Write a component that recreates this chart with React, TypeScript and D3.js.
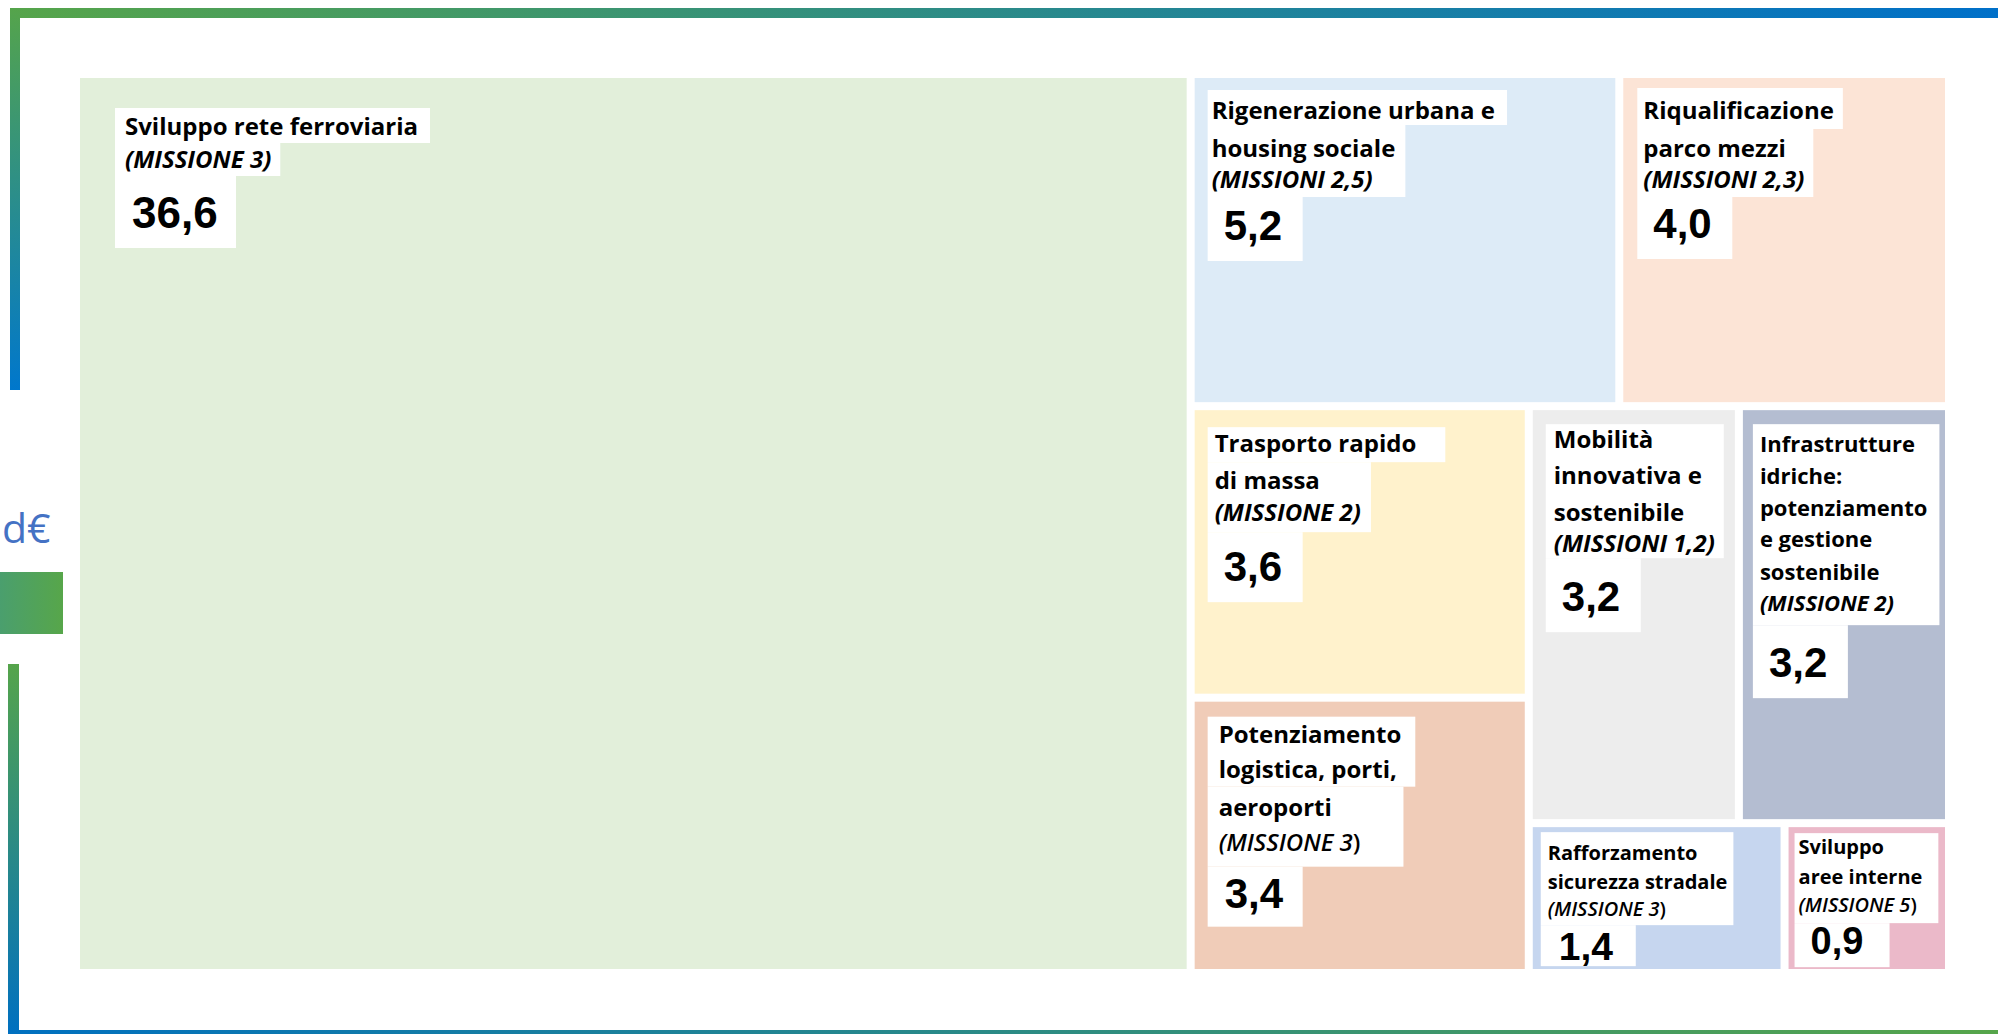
import React, { useEffect, useRef } from 'react';
import * as d3 from 'd3';

const W = 1998;
const H = 1034;

// ---- data (billions of euro) ----
const categories = [
  'Sviluppo rete ferroviaria',
  'Rigenerazione urbana e housing sociale',
  'Riqualificazione parco mezzi',
  'Trasporto rapido di massa',
  'Mobilità innovativa e sostenibile',
  'Infrastrutture idriche: potenziamento e gestione sostenibile',
  'Potenziamento logistica, porti, aeroporti',
  'Rafforzamento sicurezza stradale',
  'Sviluppo aree interne',
];

const titleLines = [
  ['Sviluppo rete ferroviaria'],
  ['Rigenerazione urbana e', 'housing sociale'],
  ['Riqualificazione', 'parco mezzi'],
  ['Trasporto rapido', 'di massa'],
  ['Mobilità', 'innovativa e', 'sostenibile'],
  ['Infrastrutture', 'idriche:', 'potenziamento', 'e gestione', 'sostenibile'],
  ['Potenziamento', 'logistica, porti,', 'aeroporti'],
  ['Rafforzamento', 'sicurezza stradale'],
  ['Sviluppo', 'aree interne'],
];

const missions = [
  'MISSIONE 3',
  'MISSIONI 2,5',
  'MISSIONI 2,3',
  'MISSIONE 2',
  'MISSIONI 1,2',
  'MISSIONE 2',
  'MISSIONE 3',
  'MISSIONE 3',
  'MISSIONE 5',
];

const values = [36.6, 5.2, 4.0, 3.6, 3.2, 3.2, 3.4, 1.4, 0.9];

const fills = [
  '#E2EFDA',
  '#DDEBF7',
  '#FCE4D6',
  '#FFF2CC',
  '#EDEDED',
  '#B4BDD1',
  '#F0CCB8',
  '#C6D6EF',
  '#EBB9C9',
];

// label placement inside each tile (offsets from the tile's top-left corner)
// edges: top/bottom of the white highlight rows, groups: which text lines share a row
const labelLayout = [
  { fs: 24, tx: 45, bx: 35, base: [57, 90], groups: [[0], [1]], pads: [12, 9], edges: [30, 65, 98], vx: 52, vy: 150, vfs: 44, vBottom: 170, vw: 121, upright: false },
  { fs: 24, tx: 17, bx: 13, base: [41, 79, 110], groups: [[0], [1, 2]], pads: [12, 10], edges: [12, 47, 119], vx: 29, vy: 162, vfs: 42, vBottom: 183, vw: 95, upright: false },
  { fs: 24, tx: 20, bx: 14, base: [41, 79, 110], groups: [[0], [1, 2]], pads: [9, 9], edges: [10, 51, 119], vx: 30, vy: 160, vfs: 42, vBottom: 181, vw: 95, upright: false },
  { fs: 24, tx: 20, bx: 13, base: [42, 79, 111], groups: [[0], [1, 2]], pads: [29, 10], edges: [17, 52, 122], vx: 29, vy: 171, vfs: 42, vBottom: 192, vw: 95, upright: false },
  { fs: 24, tx: 21, bx: 13, base: [38, 74, 111, 142], groups: [[0, 1, 2, 3]], pads: [9], edges: [14, 148], vx: 29, vy: 201, vfs: 42, vBottom: 222, vw: 95, upright: false },
  { fs: 22, tx: 17, bx: 10, base: [42, 74, 106, 137, 170, 201], groups: [[0, 1, 2, 3, 4, 5]], pads: [12], edges: [14, 215], vx: 26, vy: 267, vfs: 42, vBottom: 288, vw: 95, upright: false },
  { fs: 24, tx: 24, bx: 13, base: [41, 76, 114, 149], groups: [[0, 1], [2, 3]], pads: [14, 43], edges: [15, 85, 165], vx: 30, vy: 206, vfs: 42, vBottom: 225, vw: 95, upright: true },
  { fs: 20, tx: 15, bx: 8, base: [33, 62, 89], groups: [[0, 1, 2]], pads: [6], edges: [5, 98], vx: 26, vy: 133, vfs: 39, vBottom: 139, vw: 95, upright: true },
  { fs: 20, tx: 10, bx: 6, base: [27, 57, 85], groups: [[0, 1, 2]], pads: [16], edges: [6, 96], vx: 22, vy: 127, vfs: 38, vBottom: 140, vw: 95, upright: true },
];

const FONT = "'Open Sans', 'Noto Sans', sans-serif";
const NUM_FONT = "'Liberation Sans', Arial, sans-serif";

const itFormat = d3.formatLocale({ decimal: ',', thousands: '.', grouping: [3], currency: ['', '€'] }).format('.1f');

interface Leaf {
  name: string;
  idx: number;
  value: number;
}

export default function App() {
  const svgRef = useRef<SVGSVGElement | null>(null);

  useEffect(() => {
    if (!svgRef.current) return;
    const svg = d3.select(svgRef.current);
    svg.selectAll('*').remove();

    const defs = svg.append('defs');
    const gradient = (id: string, x1: number, y1: number, x2: number, y2: number, from: string, to: string) => {
      const lg = defs.append('linearGradient')
        .attr('id', id)
        .attr('gradientUnits', 'userSpaceOnUse')
        .attr('x1', x1).attr('y1', y1).attr('x2', x2).attr('y2', y2);
      lg.append('stop').attr('offset', 0).attr('stop-color', from);
      lg.append('stop').attr('offset', 1).attr('stop-color', to);
    };
    gradient('gTop', 10, 0, W, 0, '#56A54A', '#0070C9');
    gradient('gLeftTop', 0, 8, 0, 390, '#55A44B', '#0077CC');
    gradient('gLeftBottom', 0, 664, 0, H, '#55A44B', '#0070C0');
    gradient('gBottom', 8, 0, W, 0, '#0070C0', '#56A54A');
    gradient('gTab', -60, 0, 63, 0, '#3E9890', '#57A64A');

    // frame
    const frame = svg.append('g');
    frame.append('rect').attr('x', 10).attr('y', 8).attr('width', W - 10).attr('height', 10).attr('fill', 'url(#gTop)');
    frame.append('rect').attr('x', 10).attr('y', 8).attr('width', 10).attr('height', 382).attr('fill', 'url(#gLeftTop)');
    frame.append('rect').attr('x', 8).attr('y', 664).attr('width', 11).attr('height', H - 664).attr('fill', 'url(#gLeftBottom)');
    frame.append('rect').attr('x', 8).attr('y', 1030).attr('width', W - 8).attr('height', 10).attr('fill', 'url(#gBottom)');
    frame.append('rect').attr('x', 0).attr('y', 572).attr('width', 63).attr('height', 62).attr('fill', 'url(#gTab)');
    frame.append('text')
      .attr('x', 2).attr('y', 543)
      .attr('font-family', FONT).attr('font-size', 41)
      .attr('fill', '#4472C4')
      .text('d€');

    // treemap
    const leaves: Leaf[] = categories.map((name, idx) => ({ name, idx, value: values[idx] }));
    const root = d3.hierarchy<any>({ children: leaves })
      .sum((d: any) => d.value ?? 0)
      .sort((a, b) => (b.value ?? 0) - (a.value ?? 0));

    d3.treemap<any>()
      .tile(d3.treemapSquarify.ratio(1))
      .size([1865, 891])
      .paddingInner(8)(root);

    const chart = svg.append('g').attr('transform', 'translate(80,78)');

    const cells = chart.selectAll('g.cell')
      .data(root.leaves() as d3.HierarchyRectangularNode<Leaf>[])
      .enter()
      .append('g')
      .attr('class', 'cell')
      .attr('transform', d => `translate(${d.x0},${d.y0})`);

    cells.append('rect')
      .attr('width', d => d.x1 - d.x0)
      .attr('height', d => d.y1 - d.y0)
      .attr('fill', d => fills[d.data.idx]);

    cells.each(function (d) {
      const i = d.data.idx;
      const L = labelLayout[i];
      const cell = d3.select(this);
      const boxes = cell.append('g');
      const texts = cell.append('g').attr('font-family', FONT).attr('fill', '#000');

      const widths: number[] = [];
      titleLines[i].forEach((line, k) => {
        const t = texts.append('text')
          .attr('x', L.tx).attr('y', L.base[k])
          .attr('font-size', L.fs).attr('font-weight', 700)
          .text(line);
        widths.push((t.node() as SVGTextElement).getComputedTextLength());
      });

      const mk = titleLines[i].length;
      const mt = texts.append('text')
        .attr('x', L.tx).attr('y', L.base[mk])
        .attr('font-size', L.fs)
        .attr('font-weight', L.upright ? 600 : 700);
      if (L.upright) {
        mt.append('tspan').attr('font-style', 'italic').text(`(${missions[i]}`);
        mt.append('tspan').text(')');
      } else {
        mt.append('tspan').attr('font-style', 'italic').text(`(${missions[i]})`);
      }
      widths.push((mt.node() as SVGTextElement).getComputedTextLength());

      // white highlight rows behind the text
      L.groups.forEach((grp, gi) => {
        const maxW = d3.max(grp, k => widths[k]) ?? 0;
        boxes.append('rect')
          .attr('x', L.bx)
          .attr('y', L.edges[gi])
          .attr('width', L.tx + maxW + L.pads[gi] - L.bx)
          .attr('height', L.edges[gi + 1] - L.edges[gi])
          .attr('fill', '#fff');
      });
      const vTop = L.edges[L.edges.length - 1];
      boxes.append('rect')
        .attr('x', L.bx).attr('y', vTop)
        .attr('width', L.vw).attr('height', L.vBottom - vTop)
        .attr('fill', '#fff');

      texts.append('text')
        .attr('x', L.vx).attr('y', L.vy)
        .attr('font-family', NUM_FONT)
        .attr('font-size', L.vfs).attr('font-weight', 700)
        .text(itFormat(d.data.value));
    });
  }, []);

  return (
    <div style={{ position: 'absolute', left: 0, top: 0, background: '#fff' }}>
      <svg ref={svgRef} width={W} height={H} style={{ display: 'block' }}></svg>
    </div>
  );
}
